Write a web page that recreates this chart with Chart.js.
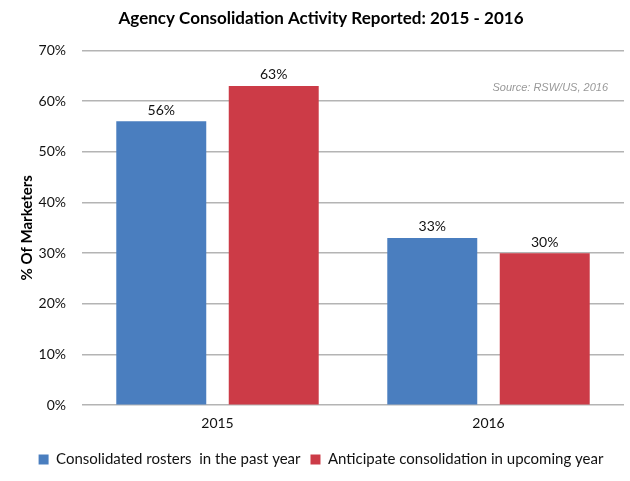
<!DOCTYPE html>
<html>
<head>
<meta charset="utf-8">
<script src="https://cdn.jsdelivr.net/npm/chart.js@4"></script>
<style>
  html, body { margin: 0; padding: 0; background: #fff; }
  #wrap { width: 630px; height: 481px; }
</style>
</head>
<body>
<div id="wrap"><canvas id="ourChart"></canvas></div>
<script>
const years = ['2015', '2016'];
const pastYear = [56, 33];
const upcoming = [63, 30];
const seriesNames = ['Consolidated rosters  in the past year', 'Anticipate consolidation in upcoming year'];

const FONT = 'Lato, "Open Sans", sans-serif';

// value labels over each bar
const barLabels = {
    id: 'barLabels',
    afterDatasetsDraw(chart) {
        const ctx = chart.ctx;
        ctx.save();
        ctx.font = '14px ' + FONT;
        ctx.fillStyle = '#111';
        ctx.textAlign = 'center';
        ctx.textBaseline = 'bottom';
        chart.data.datasets.forEach((ds, i) => {
            chart.getDatasetMeta(i).data.forEach((bar, j) => {
                ctx.fillText(ds.data[j] + '%', bar.x, bar.y - 4);
            });
        });
        ctx.restore();
    }
};

// source note, top right of plot
const sourceNote = {
    id: 'sourceNote',
    afterDraw(chart) {
        const ctx = chart.ctx;
        ctx.save();
        ctx.font = 'italic 11px "Liberation Sans", Arial, sans-serif';
        ctx.fillStyle = '#999';
        ctx.textAlign = 'right';
        ctx.textBaseline = 'middle';
        ctx.fillText('Source: RSW/US, 2016', chart.chartArea.right - 16, 88);
        ctx.restore();
    }
};

new Chart(document.getElementById('ourChart'), {
    type: 'bar',
    data: {
        labels: years,
        datasets: [
            {
                label: seriesNames[0],
                data: pastYear,
                backgroundColor: '#4a7ebf',
            },
            {
                label: seriesNames[1],
                data: upcoming,
                backgroundColor: '#cc3b47',
            }
        ]
    },
    options: {
        responsive: true,
        maintainAspectRatio: false,
        animation: false,
        categoryPercentage: 0.83,
        barPercentage: 0.8,
        layout: {
            padding: { left: 18, right: 6, top: 0, bottom: 4 }
        },
        plugins: {
            title: {
                display: true,
                text: 'Agency Consolidation Activity Reported: 2015 - 2016',
                color: '#000',
                font: { family: FONT, size: 17, weight: 'bold' },
                padding: { top: 8, bottom: 22 }
            },
            legend: {
                display: true,
                position: 'bottom',
                labels: {
                    boxWidth: 10,
                    boxHeight: 10,
                    color: '#111',
                    font: { family: FONT, size: 15 },
                    padding: 10
                }
            },
            tooltip: { enabled: false }
        },
        scales: {
            x: {
                grid: { display: false, drawTicks: false },
                border: { display: false },
                ticks: {
                    color: '#111',
                    font: { family: FONT, size: 14 },
                    padding: 10
                }
            },
            y: {
                min: 0,
                max: 70,
                afterFit: scale => { scale.width = 64; },
                grid: { color: '#b4b4b4', lineWidth: 1.5, drawTicks: false },
                border: { display: false },
                ticks: {
                    stepSize: 10,
                    color: '#111',
                    font: { family: FONT, size: 14 },
                    padding: 16,
                    callback: v => v + '%'
                },
                title: {
                    display: true,
                    text: '% Of Marketers',
                    color: '#000',
                    font: { family: FONT, size: 15, weight: 'bold' },
                    padding: { top: 0, bottom: 0 }
                }
            }
        }
    },
    plugins: [barLabels, sourceNote]
});
</script>
</body>
</html>
